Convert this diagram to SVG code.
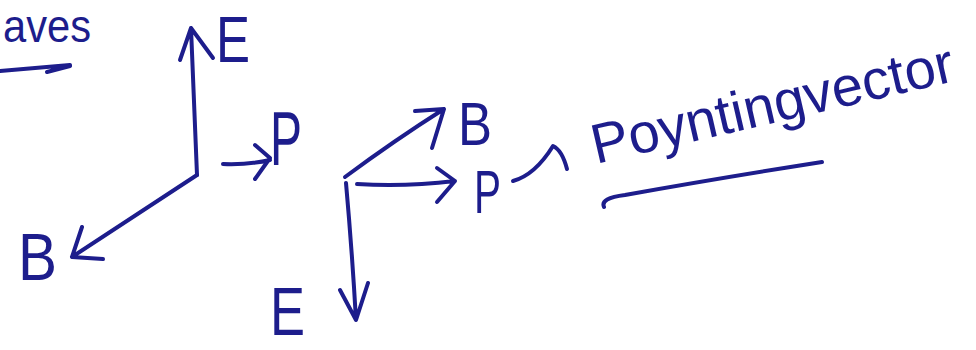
<svg xmlns="http://www.w3.org/2000/svg" width="976" height="350" viewBox="0 0 976 350">
<style>
.ink{fill:none;stroke:#1d1d8c;stroke-width:4;stroke-linecap:round;stroke-linejoin:round}
.lbl{fill:#1d1d8c;font-family:"Liberation Sans","DejaVu Sans",sans-serif}
</style>
<rect width="976" height="350" fill="#ffffff"/>
<g id="title">
<text class="lbl" x="3" y="42" font-size="46" textLength="88" lengthAdjust="spacingAndGlyphs">aves</text>
</g>
<g id="E1"><text class="lbl" x="216" y="62" font-size="64" textLength="34" lengthAdjust="spacingAndGlyphs">E</text></g>
<g id="P1"><text class="lbl" x="270" y="165" font-size="76" textLength="32" lengthAdjust="spacingAndGlyphs">P</text></g>
<g id="B1"><text class="lbl" x="18" y="280" font-size="66" textLength="39" lengthAdjust="spacingAndGlyphs">B</text></g>
<g id="B2"><text class="lbl" x="458" y="145" font-size="62" textLength="34" lengthAdjust="spacingAndGlyphs">B</text></g>
<g id="P2"><text class="lbl" x="474" y="213" font-size="62" textLength="27" lengthAdjust="spacingAndGlyphs">P</text></g>
<g id="E2"><text class="lbl" x="270" y="335" font-size="68" textLength="35" lengthAdjust="spacingAndGlyphs">E</text></g>
<g id="poynting" transform="translate(596 164) rotate(-13)">
<text class="lbl" x="0" y="0" font-size="56">Poyntingvector</text>
</g>
<g id="connectors" class="ink">
<path d="M0 71 L70 65 M47 72 L70 66"/>
<path d="M197 175 L191 28 M180 60 L191 28 L213 58"/>
<path d="M197 175 L72 257 M82 227 L72 257 L103 259"/>
<path d="M223 164 Q248 165 270 160 M255 145 L270 158 L255 179"/>
<path d="M345 177 Q395 140 444 109 M415 111 L444 109 L432 148"/>
<path d="M357 184 Q405 187 455 181 M437 168 L455 181 L437 202"/>
<path d="M346 183 Q352 250 356 320 M340 290 L356 320 L368 283"/>
<path d="M513 181 Q535 175 553 146 Q562 150 567 169"/>
<path d="M604 207 Q600 198 625 195 Q720 178 822 162"/>
</g>
</svg>
